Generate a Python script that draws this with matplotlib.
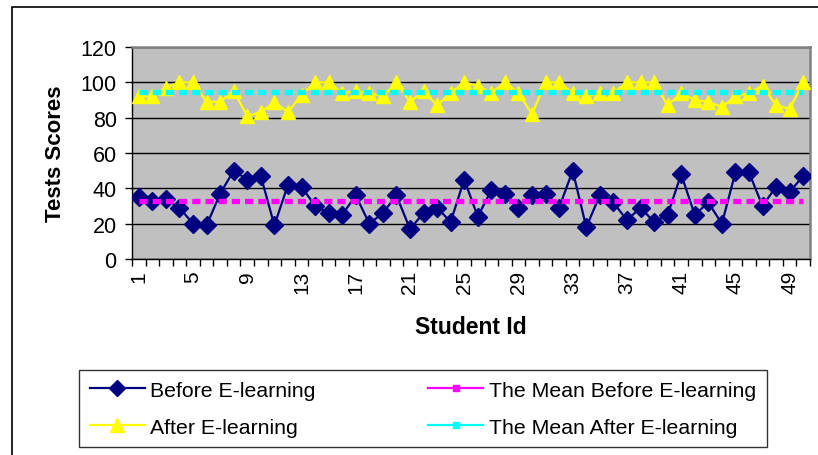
import matplotlib
matplotlib.use("Agg")
import matplotlib.pyplot as plt
from matplotlib.lines import Line2D
from matplotlib.patches import Rectangle

plt.rcParams['font.family'] = ['Liberation Sans', 'DejaVu Sans']

# scores, students 1..50
student_id = list(range(1, 51))
before = [35, 33, 34, 29, 20, 19, 37, 50, 45, 47,
          19, 42, 41, 30, 26, 25, 36, 20, 26, 36,
          17, 26, 29, 21, 45, 24, 39, 37, 29, 36,
          37, 29, 50, 18, 36, 32, 22, 29, 21, 25,
          48, 25, 32, 20, 49, 49, 30, 41, 38, 47]
after = [92, 92, 97, 100, 100, 89, 89, 95, 81, 83,
         89, 83, 93, 100, 100, 94, 95, 94, 92, 100,
         89, 95, 87, 94, 100, 98, 94, 100, 94, 82,
         100, 100, 94, 92, 94, 94, 100, 100, 100, 87,
         94, 90, 89, 86, 92, 94, 98, 87, 85, 100]
mean_before = [32.7] * 50
mean_after = [94.4] * 50
x_labels = [1, 5, 9, 13, 17, 21, 25, 29, 33, 37, 41, 45, 49]

fig = plt.figure(figsize=(8.18, 4.56), dpi=100)
fig.patch.set_facecolor('white')

# outer chart frame (runs off the right and bottom of the picture)
fig.patches.append(Rectangle((12 / 818, -0.2), 1.2, 1.2 - 8 / 456,
                             transform=fig.transFigure, fill=False,
                             edgecolor='black', linewidth=1.2))

ax = fig.add_axes([132 / 818, 1 - 260 / 456, (810 - 132) / 818, (260 - 48) / 456])
ax.set_facecolor('#C0C0C0')

ax.plot(student_id, before, color='#000080', lw=1.6, marker='D', ms=9, zorder=3)
ax.plot(student_id, after, color='#FFFF00', lw=1.6, marker='^', ms=10.5, zorder=3)
ax.plot(student_id, mean_before, color='#FF00FF', lw=3.8, dashes=(1.55, 0.95), zorder=4)
ax.plot(student_id, mean_after, color='#00FFFF', lw=3.8, dashes=(1.55, 0.95), zorder=4)

ax.set_xlim(0.5, 50.5)
ax.set_ylim(0, 120)
ax.set_yticks(range(0, 121, 20))
ax.yaxis.grid(True, color='black', lw=1)
ax.set_axisbelow(True)

ax.set_xticks(x_labels)
ax.set_xticklabels([str(v) for v in x_labels], rotation=90)
ax.set_xticks([i + 0.5 for i in range(0, 51)], minor=True)
ax.tick_params(axis='x', which='major', length=0, pad=8, labelsize=15)
ax.tick_params(axis='x', which='minor', length=5, width=1, direction='out')
ax.tick_params(axis='y', length=5, width=1, direction='out', pad=6, labelsize=15.5)

for s in ['top', 'right']:
    ax.spines[s].set_color('#808080')
    ax.spines[s].set_linewidth(1.8)
for s in ['left', 'bottom']:
    ax.spines[s].set_color('black')
    ax.spines[s].set_linewidth(1)

ax.set_ylabel('Tests Scores', fontsize=16, fontweight='bold')
ax.yaxis.set_label_coords(-0.098, 0.5)
ax.set_xlabel('Student Id', fontsize=16.5, fontweight='bold')
ax.xaxis.set_label_coords(0.5, -0.264)

handles = [
    Line2D([], [], color='#000080', lw=1.6, marker='D', ms=8),
    Line2D([], [], color='#FFFF00', lw=1.6, marker='^', ms=9.5),
    Line2D([], [], color='#FF00FF', lw=1.6, marker='s', ms=5),
    Line2D([], [], color='#00FFFF', lw=1.6, marker='s', ms=5),
]
labels = ['Before E-learning', 'After E-learning',
          'The Mean Before E-learning', 'The Mean After E-learning']
leg = fig.legend(handles, labels, ncol=2,
                 bbox_to_anchor=(79 / 818, 1 - 371 / 456),
                 loc='upper left', fontsize=15.3, frameon=True, fancybox=False,
                 edgecolor='black', handlelength=2.6, handletextpad=0.25,
                 borderaxespad=0, labelspacing=0.85, borderpad=0.5,
                 columnspacing=5.3)
leg.get_frame().set_linewidth(1)

fig.savefig('out.png', dpi=100)
